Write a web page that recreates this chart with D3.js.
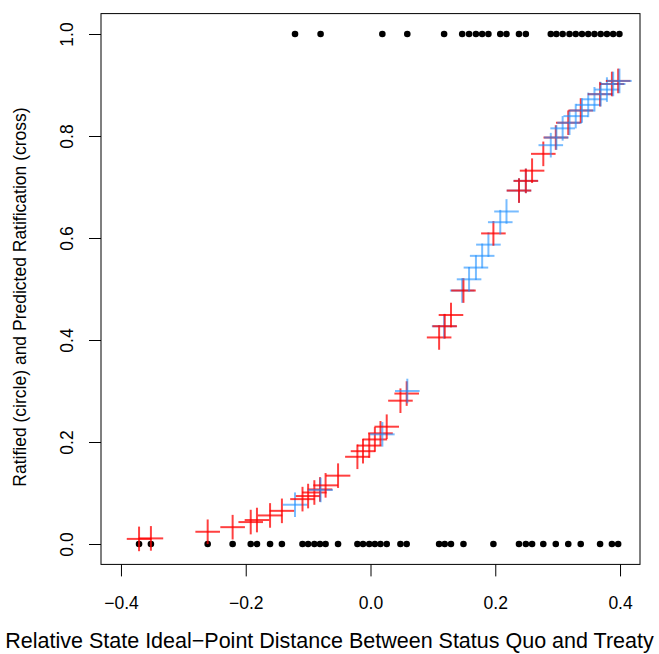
<!DOCTYPE html>
<html>
<head>
<meta charset="utf-8">
<script src="https://cdn.jsdelivr.net/npm/d3@7"></script>
<style>
  body { margin: 0; background: #fff; }
  text { font-family: "Liberation Sans", Arial, Helvetica, sans-serif; }
</style>
</head>
<body>
<div id="chart"></div>
<script>
// observed ratified (circle at 1) and their predicted values (cross)
const ratX = [-0.121, -0.080, 0.019, 0.059, 0.118, 0.147, 0.158, 0.169, 0.179, 0.189,
  0.208, 0.218, 0.238, 0.249, 0.289, 0.298, 0.308, 0.319, 0.329, 0.339, 0.349, 0.359,
  0.369, 0.379, 0.389, 0.399];
const ratPred = [0.077, 0.106, 0.215, 0.300, 0.427, 0.497, 0.519, 0.542, 0.565, 0.587,
  0.631, 0.652, 0.693, 0.712, 0.782, 0.797, 0.815, 0.826, 0.839, 0.850, 0.861, 0.872,
  0.882, 0.891, 0.902, 0.908];

// observed not ratified (circle at 0)
const notX = [-0.371, -0.352, -0.261, -0.221, -0.192, -0.182, -0.161, -0.142, -0.109,
  -0.100, -0.090, -0.081, -0.072, -0.052, -0.021, -0.012, -0.002, 0.007, 0.016, 0.026,
  0.048, 0.058, 0.110, 0.119, 0.129, 0.149, 0.197, 0.238, 0.249, 0.259, 0.277, 0.297,
  0.317, 0.337, 0.368, 0.387, 0.397];
const notPred = [0.010, 0.011, 0.024, 0.033, 0.043, 0.047, 0.056, 0.065, 0.088, 0.094,
  0.101, 0.107, 0.115, 0.134, 0.171, 0.182, 0.193, 0.205, 0.217, 0.230, 0.281, 0.295,
  0.405, 0.427, 0.449, 0.497, 0.609, 0.693, 0.712, 0.732, 0.765, 0.797, 0.826, 0.850,
  0.882, 0.902, 0.908];

const xTicks = [-0.4, -0.2, 0.0, 0.2, 0.4];
const yTicks = [0.0, 0.2, 0.4, 0.6, 0.8, 1.0];

const width = 659, height = 654;
const svg = d3.select("#chart").append("svg")
  .attr("width", width).attr("height", height);

const x = d3.scaleLinear().domain([-0.432, 0.432]).range([101, 640]);
const y = d3.scaleLinear().domain([-0.04, 1.04]).range([564.4, 13.6]);

// axes
const xAxis = d3.axisBottom(x).tickValues(xTicks).tickSize(12).tickPadding(20)
  .tickFormat(d3.format(".1f"));
const yAxis = d3.axisLeft(y).tickValues(yTicks).tickSize(12)
  .tickFormat(d3.format(".1f"));

const gx = svg.append("g").attr("transform", `translate(0,${y.range()[0]})`).call(xAxis);
gx.select(".domain").attr("stroke", "none");
gx.selectAll("text").attr("font-size", 17.5).attr("fill", "#000").attr("dy", "0.72em");
gx.selectAll("line").attr("stroke", "#000");

const gy = svg.append("g").attr("transform", `translate(${x.range()[0]},0)`).call(yAxis);
gy.select(".domain").attr("stroke", "none");
gy.selectAll("line").attr("stroke", "#000");
gy.selectAll("text").attr("font-size", 17.5).attr("fill", "#000")
  .attr("text-anchor", "middle").attr("dy", 0).attr("x", 0).attr("y", 0)
  .attr("transform", "translate(-28,0) rotate(-90)");

// box
svg.append("rect")
  .attr("x", x.range()[0]).attr("y", y.range()[1])
  .attr("width", x.range()[1] - x.range()[0])
  .attr("height", y.range()[0] - y.range()[1])
  .attr("fill", "none").attr("stroke", "#000").attr("stroke-width", 1);

// observed circles
const obs = ratX.map(v => ({ x: v, y: 1 })).concat(notX.map(v => ({ x: v, y: 0 })));
svg.append("g").selectAll("circle").data(obs).enter().append("circle")
  .attr("cx", d => x(d.x)).attr("cy", d => y(d.y)).attr("r", 3.3)
  .attr("fill", "#000");

// predicted crosses, drawn in x order
const preds = ratX.map((v, i) => ({ x: v, p: ratPred[i], c: "rgba(30,144,255,0.6)" }))
  .concat(notX.map((v, i) => ({ x: v, p: notPred[i], c: "rgba(255,0,0,0.75)" })))
  .sort((a, b) => a.x - b.x);
const arm = 12.3;
const cross = svg.append("g").selectAll("g").data(preds).enter().append("g");
cross.append("line")
  .attr("x1", d => x(d.x) - arm).attr("x2", d => x(d.x) + arm)
  .attr("y1", d => y(d.p)).attr("y2", d => y(d.p))
  .attr("stroke", d => d.c).attr("stroke-width", 2);
cross.append("line")
  .attr("x1", d => x(d.x)).attr("x2", d => x(d.x))
  .attr("y1", d => y(d.p) - arm).attr("y2", d => y(d.p) + arm)
  .attr("stroke", d => d.c).attr("stroke-width", 2);

// axis titles
svg.append("text")
  .attr("x", 329.5).attr("y", 648)
  .attr("text-anchor", "middle").attr("font-size", 21.5)
  .text("Relative State Ideal\u2212Point Distance Between Status Quo and Treaty");
svg.append("text")
  .attr("transform", `translate(26,297) rotate(-90)`)
  .attr("text-anchor", "middle").attr("font-size", 17.5)
  .text("Ratified (circle) and Predicted Ratification (cross)");
</script>
</body>
</html>
